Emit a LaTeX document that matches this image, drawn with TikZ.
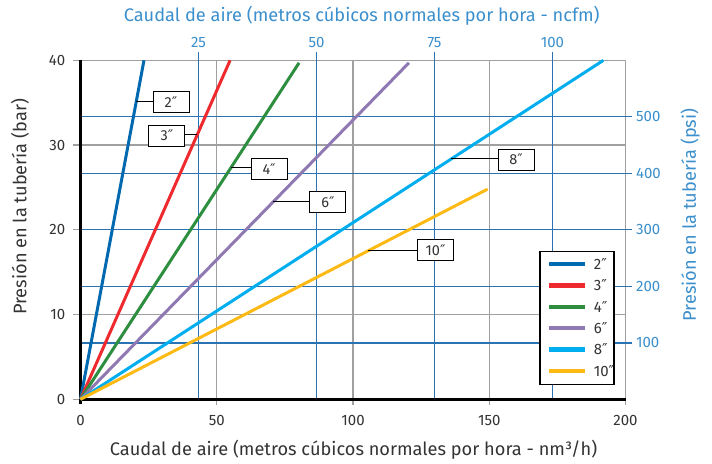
\documentclass[tikz,border=0pt]{standalone}
\usepackage{fontspec}
\setmainfont{Fira Sans}
\newfontfamily\symfont{DejaVu Sans}
\newcommand\inch{{\symfont ″}}
\definecolor{gridgray}{HTML}{A0A0A0}
\definecolor{gridblue}{HTML}{2A72B2}
\definecolor{axblue}{HTML}{3B8FCC}
\definecolor{txt}{HTML}{333333}
\definecolor{cTwo}{HTML}{0069AF}
\definecolor{cThree}{HTML}{EE2A2E}
\definecolor{cFour}{HTML}{2C8E3E}
\definecolor{cSix}{HTML}{9079B3}
\definecolor{cEight}{HTML}{00AEEF}
\definecolor{cTen}{HTML}{FDB914}
\tikzset{
  grayline/.style={gridgray, line width=1.3pt},
  blueline/.style={gridblue, line width=1.4pt},
  axisline/.style={black, line width=3pt},
  pipe/.style={line width=3pt},
  keyline/.style={line width=4.5pt},
  tag/.style={draw, line width=0.9pt, fill=white, minimum width=36pt, minimum height=21pt, inner sep=0pt, text=txt, font=\fontsize{14.5}{14.5}\selectfont},
  lead/.style={line width=0.9pt},
  ticklab/.style={text=txt, font=\fontsize{15}{15}\selectfont},
  bluelab/.style={text=axblue, font=\fontsize{15}{15}\selectfont},
  axtitle/.style={font=\fontsize{18.2}{18.2}\selectfont}
}
\begin{document}
\begin{tikzpicture}[x=2.725pt, y=8.475pt]
\useasboundingbox (-29.54,-7.516) rectangle (231.74,47.115);
\foreach \x in {50,100,150,200} \draw[grayline] (\x,-0.7) -- (\x,40);
\foreach \y in {0,10,20,30,40} \draw[grayline] (-2.6,\y) -- (200,\y);
\foreach \k in {1,2,3,4} \draw[blueline] (43.3*\k,0) -- (43.3*\k,41);
\foreach \k in {1,...,5} \draw[blueline] (0,6.667*\k) -- (202.3,6.667*\k);
\draw[axisline] (0,-0.6) -- (0,40);
\draw[axisline] (0,0) -- (200,0);

\foreach \y in {0,10,20,30,40} \node[ticklab, anchor=east] (yl\y) at (-4.3,\y) {\y};
\foreach \x in {0,50,100,150,200} \node[ticklab] (xl\x) at (\x,-2.45) {\x};
\foreach \k/\v in {1/25,2/50,3/75,4/100} \node[bluelab] (tl\v) at (43.3*\k,42.05) {\v};
\foreach \k/\v in {1/100,2/200,3/300,4/400,5/500} \node[bluelab, anchor=west] (rl\v) at (202.6,6.667*\k) {\v};

\node[axtitle, text=axblue] (toptitle) at (103.2,45.25) {Caudal de aire (metros cúbicos normales por hora - ncfm)};
\node[axtitle, text=txt] (bottitle) at (100.2,-6.0) {Caudal de aire (metros cúbicos normales por hora - nm³/h)};
\node[axtitle, text=txt, rotate=90] (lefttitle) at (-22.2,22.7) {Presión en la tubería (bar)};
\node[axtitle, text=axblue, rotate=90] (righttitle) at (223.7,21.75) {Presión en la tubería (psi)};

\draw[pipe, cTwo] (0,0) -- coordinate[pos=0.88] (p2) (23.3,40);
\draw[pipe, cThree] (0,0) -- coordinate[pos=0.78] (p3) (54.9,40);
\draw[pipe, cFour] (0,0) -- coordinate[pos=0.688] (p4) (80.2,39.7);
\draw[pipe, cSix] (0,0) -- coordinate[pos=0.587] (p6) (120.5,39.7);
\draw[pipe, cEight] (0,0) -- coordinate[pos=0.709] (p8) (191.9,40);
\draw[pipe, cTen] (0,0) -- coordinate[pos=0.706] (p10) (149.4,24.8);

\node[tag] (t2) at (33.2,35.1) {2\inch};
\node[tag] (t3) at (31.7,31.1) {3\inch};
\node[tag] (t4) at (69.2,27.2) {4\inch};
\node[tag] (t6) at (90.8,23.3) {6\inch};
\node[tag] (t8) at (159.8,28.3) {8\inch};
\node[tag] (t10) at (130.3,17.6) {10\inch};
\draw[lead] (p2) -- (p2 -| t2.west);
\draw[lead] (p3) -- (p3 -| t3.east);
\draw[lead] (p4) -- (p4 -| t4.west);
\draw[lead] (p6) -- (p6 -| t6.west);
\draw[lead] (p8) -- (p8 -| t8.west);
\draw[lead] (p10) -- (p10 -| t10.west);

\node[draw, line width=1.2pt, fill=white, minimum width=74pt, minimum height=133pt] (legend) at (182.2,9.6) {};
\foreach \n/\c [count=\i from 0] in {2/cTwo,3/cThree,4/cFour,6/cSix,8/cEight,10/cTen} {
  \draw[keyline, \c] (171.9,15.95-2.52*\i) -- (185.1,15.95-2.52*\i);
  \node[ticklab, anchor=west, inner sep=0pt] (k\n) at (188.3,15.95-2.52*\i) {\n\inch};
}
\end{tikzpicture}
\end{document}
